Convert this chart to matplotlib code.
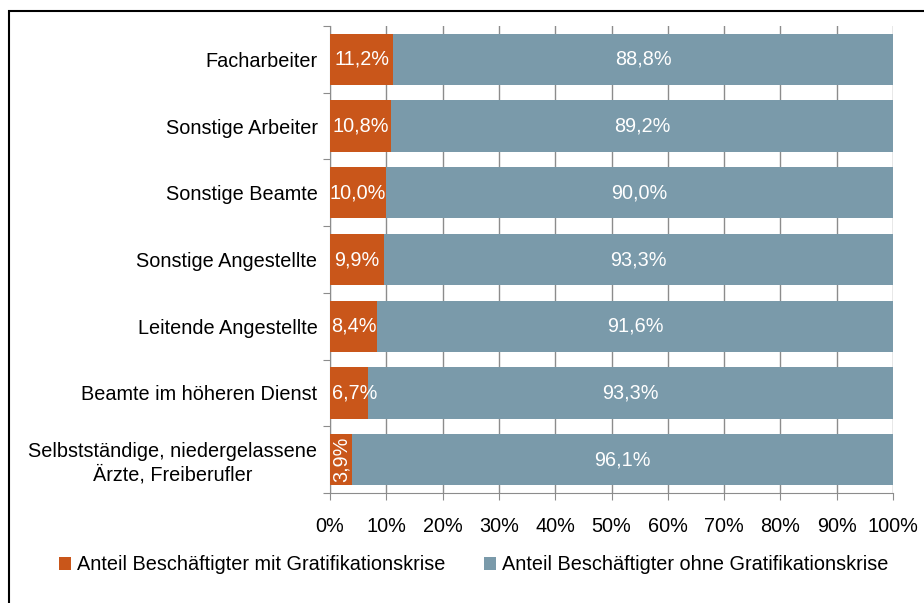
import numpy as np
import matplotlib.pyplot as plt
from matplotlib.patches import Rectangle

plt.rcParams['font.family'] = ['Liberation Sans', 'DejaVu Sans']

categories = ['Facharbeiter', 'Sonstige Arbeiter', 'Sonstige Beamte',
              'Sonstige Angestellte', 'Leitende Angestellte',
              'Beamte im höheren Dienst',
              'Selbstständige, niedergelassene\nÄrzte, Freiberufler']
mit_krise = [11.2, 10.8, 10.0, 9.9, 8.4, 6.7, 3.9]
ohne_krise = [88.8, 89.2, 90.0, 93.3, 91.6, 93.3, 96.1]
series_names = ['Anteil Beschäftigter mit Gratifikationskrise',
                'Anteil Beschäftigter ohne Gratifikationskrise']

orange = '#C9561A'
blue = '#7A9AAA'
fs = 14.3

mit = np.array(mit_krise)
ohne = np.array(ohne_krise)
total = mit + ohne
# 100% stacked: shares of each row's total
mit_share = mit / total * 100
ohne_share = ohne / total * 100

fig = plt.figure(figsize=(9.24, 6.03), dpi=100)
fig.patches.append(Rectangle((9 / 924, -0.01), 1.0, 1 - 11 / 603 + 0.01,
                             transform=fig.transFigure, fill=False,
                             edgecolor='black', linewidth=1.5))
ax = fig.add_axes([330 / 924, 1 - 493 / 603, 563 / 924, 467 / 603])

y = np.arange(len(categories))[::-1]
h = 0.77
ax.barh(y, mit_share, height=h, color=orange, label=series_names[0], zorder=3)
ax.barh(y, ohne_share, left=mit_share, height=h, color=blue,
        label=series_names[1], zorder=3)

for i in range(len(categories)):
    lbl_m = ('%.1f%%' % mit[i]).replace('.', ',')
    lbl_o = ('%.1f%%' % ohne[i]).replace('.', ',')
    if mit_share[i] < 5:
        # too narrow: label runs vertically
        ax.text(mit_share[i] / 2, y[i], lbl_m, rotation=90, color='white',
                ha='center', va='center', fontsize=fs, zorder=4)
    elif mit_share[i] < 7.5:
        ax.text(0.35, y[i], lbl_m, color='white',
                ha='left', va='center', fontsize=fs, zorder=4)
    else:
        ax.text(mit_share[i] / 2, y[i], lbl_m, color='white',
                ha='center', va='center', fontsize=fs, zorder=4)
    ax.text(mit_share[i] + ohne_share[i] / 2, y[i], lbl_o, color='white',
            ha='center', va='center', fontsize=fs, zorder=4)

ax.set_xlim(0, 100)
ax.set_ylim(-0.5, len(categories) - 0.5)
ax.set_xticks(np.arange(0, 101, 10))
ax.set_xticklabels(['%d%%' % v for v in range(0, 101, 10)])
ax.xaxis.grid(True, color='#8c8c8c', linewidth=1, zorder=0)
ax.set_yticks(np.arange(-0.5, len(categories), 1), minor=False)
ax.set_yticklabels([])
ax.set_yticks(y, minor=True)
ax.set_yticklabels(categories, minor=True, fontsize=fs,
                   multialignment='center')
ax.tick_params(axis='y', which='minor', length=0, pad=9)
ax.tick_params(axis='y', which='major', length=5, color='#8c8c8c')
ax.tick_params(axis='x', length=5, color='#8c8c8c', labelsize=fs, pad=12)
for s in ['top', 'right']:
    ax.spines[s].set_visible(False)
for s in ['left', 'bottom']:
    ax.spines[s].set_color('#8c8c8c')

fig.legend(loc='center left', bbox_to_anchor=(59 / 924, 1 - 565 / 603),
           ncol=2, frameon=False, fontsize=fs, handlelength=0.6,
           handleheight=0.6, handletextpad=0.3, columnspacing=1.95,
           borderaxespad=0, borderpad=0)

fig.savefig('out.png', dpi=100)
